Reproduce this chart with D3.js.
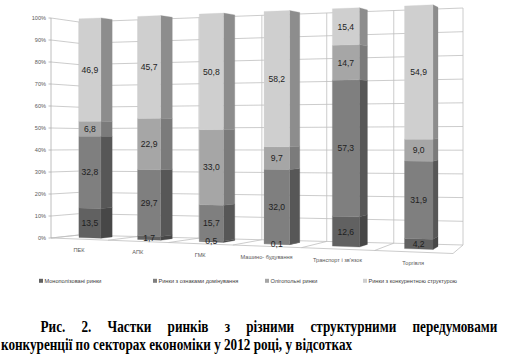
<!DOCTYPE html>
<html><head><meta charset="utf-8">
<script src="https://cdn.jsdelivr.net/npm/d3@7"></script>
<style>html,body{margin:0;padding:0;background:#fff}svg{display:block}</style>
</head><body>
<script>
// ---- data ----
const categories = ["ПЕК", "АПК", "ГМК", "Машино- будування", "Транспорт і зв'язок", "Торгівля"];
const seriesNames = ["Монополізовані ринки", "Ринки з ознаками домінування", "Олігопольні ринки", "Ринки з конкурентною структурою"];
const monopoly    = [13.5, 1.7, 0.5, 0.1, 12.6, 4.2];
const dominance   = [32.8, 29.7, 15.7, 32.0, 57.3, 31.9];
const oligopoly   = [6.8, 22.9, 33.0, 9.7, 14.7, 9.0];
const competitive = [46.9, 45.7, 50.8, 58.2, 15.4, 54.9];
const yTicks = [0, 10, 20, 30, 40, 50, 60, 70, 80, 90, 100];
const captionLine1 = "Рис. 2. Частки ринків з різними структурними передумовами";
const captionLine2 = "конкуренції по секторах економіки у 2012 році, у відсотках";

// ---- styles ----
const frontColors = ["#616161", "#7f7f7f", "#a6a6a6", "#cfcfcf"];
const sideColors  = ["#474747", "#575757", "#7b7b7b", "#8d8d8d"];
const gridColor = "#bfbfbf";

const W = 507, H = 357;
const svg = d3.select("body").append("svg").attr("width", W).attr("height", H);

// table for the stack
const seriesArrays = [monopoly, dominance, oligopoly, competitive];
const rows = categories.map((c, i) => {
  const r = {category: c};
  seriesNames.forEach((s, k) => r[s] = seriesArrays[k][i]);
  return r;
});
const stacked = d3.stack().keys(seriesNames)(rows);

// ---- 3D-like projection built from scales ----
const warp = s => u => u / (s - (s - 1) * u);
const tF = warp(1.21), tB = warp(1.10);
const frontX = d3.scaleLinear().domain([0, 1]).range([51, 453]);
const frontY = d3.scaleLinear().domain([0, 1]).range([238, 253.5]);
const backX  = d3.scaleLinear().domain([0, 1]).range([79, 463]);
const backY  = d3.scaleLinear().domain([0, 1]).range([235, 245]);
const frontH = d3.scaleLinear().domain([0, 1]).range([220, 252]);
const backH  = d3.scaleLinear().domain([0, 1]).range([213, 237]);
const yScale = d3.scaleLinear().domain([0, 100]).range([0, 1]);
const xBand = d3.scaleBand().domain(categories).range([0, 1]).paddingInner(0.62).paddingOuter(0.31);
const W0 = 0.37, W1 = 0.75;

function proj(u, w, v) {
  const a = tF(u), b = tB(u);
  const x = frontX(a) * (1 - w) + backX(b) * w;
  const g = frontY(a) * (1 - w) + backY(b) * w;
  const h = frontH(a) * (1 - w) + backH(b) * w;
  return [x, g - yScale(v) * h];
}
const poly = pts => "M" + pts.map(p => p[0].toFixed(2) + "," + p[1].toFixed(2)).join("L") + "Z";
const line = pts => "M" + pts.map(p => p[0].toFixed(2) + "," + p[1].toFixed(2)).join("L");

const grid = svg.append("g").attr("fill", "none").attr("stroke", gridColor).attr("stroke-width", 0.8);

// back wall horizontal gridlines + left wall gridlines
yTicks.forEach(v => {
  grid.append("path").attr("d", line([proj(0, 1, v), proj(1, 1, v)]));
  grid.append("path").attr("d", line([proj(0, 0, v), proj(0, 1, v)]));
});
// back wall verticals and floor dividers at category boundaries
d3.range(0, categories.length + 1).forEach(k => {
  const u = k / categories.length;
  grid.append("path").attr("d", line([proj(u, 1, 0), proj(u, 1, 100)]));
  grid.append("path").attr("d", line([proj(u, 0, 0), proj(u, 1, 0)]));
});
// floor front edge
grid.append("path").attr("d", line([proj(0, 0, 0), proj(1, 0, 0)]));
// value axis line
grid.append("path").attr("d", line([proj(0, 0, 0), proj(0, 0, 100)])).attr("stroke", "#adadad");

// tick labels
const axisG = svg.append("g").attr("font-family", "'Liberation Sans', Arial, sans-serif")
  .attr("font-size", 5.6).attr("fill", "#595959");
yTicks.forEach(v => {
  const p = proj(0, 0, v);
  axisG.append("path").attr("d", line([[p[0] - 2.5, p[1]], p])).attr("stroke", "#adadad").attr("stroke-width", 0.8);
  axisG.append("text").attr("x", p[0] - 5).attr("y", p[1]).attr("dy", "0.35em")
    .attr("text-anchor", "end").text(v + "%");
});

// category labels
categories.forEach(c => {
  const u = xBand(c) + xBand.bandwidth() / 2;
  const p = proj(u, 0, 0);
  axisG.append("text").attr("x", p[0]).attr("y", p[1] + 11).attr("dy", "0.35em")
    .attr("text-anchor", "middle").text(c);
});

// bars
const barsG = svg.append("g");
stacked.forEach((ser, k) => {
  ser.forEach((d, i) => {
    const c = categories[i];
    const u1 = xBand(c), u2 = xBand(c) + xBand.bandwidth();
    const front = [proj(u1, W0, d[0]), proj(u2, W0, d[0]), proj(u2, W0, d[1]), proj(u1, W0, d[1])];
    const side = [proj(u2, W0, d[0]), proj(u2, W1, d[0]), proj(u2, W1, d[1]), proj(u2, W0, d[1])];
    barsG.append("path").attr("d", poly(side)).attr("fill", sideColors[k]).attr("stroke", sideColors[k]).attr("stroke-width", 0.3);
    barsG.append("path").attr("d", poly(front)).attr("fill", frontColors[k]).attr("stroke", frontColors[k]).attr("stroke-width", 0.3);
  });
});

// data labels
const fmt = v => d3.format(".1f")(v).replace(".", ",");
const labG = svg.append("g").attr("font-family", "'Liberation Sans', Arial, sans-serif")
  .attr("font-size", 8.6).attr("fill", "#1e1e1e").attr("text-anchor", "middle");
stacked.forEach((ser, k) => {
  ser.forEach((d, i) => {
    const c = categories[i];
    const u = xBand(c) + xBand.bandwidth() / 2;
    const p = proj(u, W0, (d[0] + d[1]) / 2);
    labG.append("text").attr("x", p[0]).attr("y", p[1]).attr("dy", "0.36em").text(fmt(d[1] - d[0]));
  });
});

// legend
const legendX = [39, 153, 265, 363];
const legG = svg.append("g").attr("font-family", "'Liberation Sans', Arial, sans-serif")
  .attr("font-size", 5.6).attr("fill", "#404040");
seriesNames.forEach((s, k) => {
  legG.append("rect").attr("x", legendX[k]).attr("y", 278.8).attr("width", 4).attr("height", 4).attr("fill", frontColors[k]);
  legG.append("text").attr("x", legendX[k] + 5.5).attr("y", 281).attr("dy", "0.35em").text(s);
});

// caption (bold serif, horizontally condensed to the measured widths via transform)
const FS = 16.5;
const cap = svg.append("g").attr("font-family", "'Liberation Serif', 'Times New Roman', serif")
  .attr("font-weight", "bold").attr("fill", "#000").attr("font-size", FS);
const measure = s => { const t = cap.append("text").text(s); const v = t.node().getComputedTextLength(); t.remove(); return v; };
const w2 = measure(captionLine2);
const target2 = 351.5;
const k = target2 / w2;
cap.append("text").attr("transform", `translate(1,350) scale(${k},1)`).text(captionLine2);
const words = captionLine1.split(" ");
const widths = words.map(wd => measure(wd) * k);
const x0 = 40.5, x1 = 497.5;
const gap = (x1 - x0 - d3.sum(widths)) / (words.length - 1);
let cx = x0;
words.forEach((wd, i) => {
  cap.append("text").attr("transform", `translate(${cx},331.5) scale(${k},1)`).text(wd);
  cx += widths[i] + gap;
});
</script>
</body></html>
